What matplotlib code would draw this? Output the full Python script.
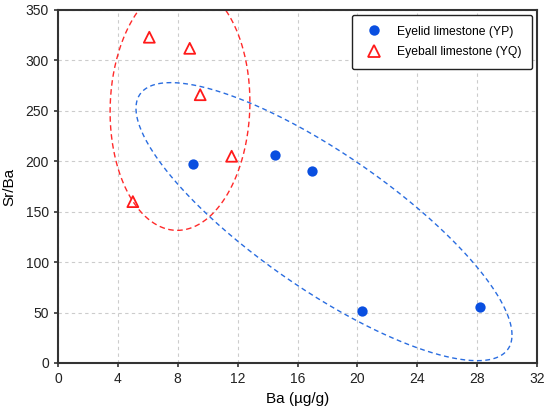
import numpy as np
import matplotlib
matplotlib.use("Agg")
import matplotlib.pyplot as plt
from matplotlib.lines import Line2D

plt.rcParams['font.family'] = ['Liberation Sans', 'DejaVu Sans']

# Data
yp_ba = [9.0, 14.5, 17.0, 20.3, 28.2]
yp_srba = [197, 206, 190, 52, 56]
yq_ba = [5.0, 6.1, 8.8, 9.5, 11.6]
yq_srba = [160, 323, 312, 266, 205]

# Ellipse parameters (cx, cy, rx, ry, cos_delta)
red_ell = (8.15, 254.0, 4.67, 122.5, 0.04)
blue_ell = (17.77, 140.15, 12.56, 137.85, -0.815)

xticks = [0, 4, 8, 12, 16, 20, 24, 28, 32]
yticks = [0, 50, 100, 150, 200, 250, 300, 350]

fig = plt.figure(figsize=(5.5, 4.09), dpi=100)
ax = fig.add_axes([58/550, 1 - 363/409, (537-58)/550, (363-10)/409])

def ell_curve(p):
    cx, cy, rx, ry, cd = p
    d = np.arccos(cd)
    t = np.linspace(0, 2*np.pi, 400)
    return cx + rx*np.cos(t), cy + ry*np.cos(t - d)

ex, ey = ell_curve(red_ell)
ax.plot(ex, ey, color='#ff2a2a', lw=1.0, ls=(0, (4, 2.5)), zorder=2)
ex, ey = ell_curve(blue_ell)
ax.plot(ex, ey, color='#2a6de0', lw=1.0, ls=(0, (3.5, 2.5)), zorder=2)

ax.scatter(yp_ba, yp_srba, s=55, color='#0a4fe0', marker='o', zorder=3, linewidths=0)
ax.scatter(yq_ba, yq_srba, s=62, facecolors='none', edgecolors='#ff1a1a',
           marker='^', linewidths=1.3, zorder=3)

ax.set_xlim(0, 32)
ax.set_ylim(0, 350)
ax.set_xticks(xticks)
ax.set_yticks(yticks)
ax.grid(True, color='#cccccc', ls=(0, (3, 3)), lw=0.8)
ax.set_axisbelow(True)
for s in ax.spines.values():
    s.set_color('#333333')
    s.set_linewidth(1.5)
ax.tick_params(direction='out', length=3, width=1.2, color='#333333',
               labelsize=10, labelcolor='#222222')
ax.set_xlabel('Ba (µg/g)', fontsize=11, labelpad=4)
ax.set_ylabel('Sr/Ba', fontsize=11, labelpad=7)

handles = [
    Line2D([], [], ls='none', marker='o', color='#0a4fe0', markersize=7.5, markeredgewidth=0),
    Line2D([], [], ls='none', marker='^', markerfacecolor='none', markeredgecolor='#ff1a1a',
           markersize=8, markeredgewidth=1.3),
]
leg = ax.legend(handles, ['Eyelid limestone (YP)', 'Eyeball limestone (YQ)'],
                loc='upper right', fontsize=8.7, frameon=True, fancybox=True,
                borderpad=0.9, labelspacing=0.7, handletextpad=1.0,
                borderaxespad=0.4, handlelength=1.8, bbox_to_anchor=(1.0, 1.0))
leg.get_frame().set_edgecolor('#222222')
leg.get_frame().set_linewidth(1.0)
leg.get_frame().set_alpha(1)

fig.savefig('out.png', dpi=100)
